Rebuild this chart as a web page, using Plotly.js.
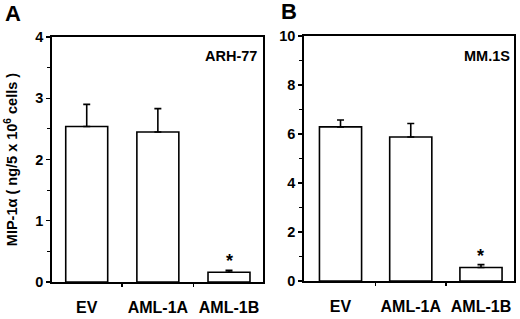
<!DOCTYPE html>
<html>
<head>
<meta charset="utf-8">
<script src="https://cdn.plot.ly/plotly-3.0.1.min.js"></script>
<style>html,body{margin:0;padding:0;background:#fff}#chart{width:520px;height:319px}</style>
</head>
<body>
<div id="chart"></div>
<script>
// Data
const categories = ['EV', 'AML-1A', 'AML-1B'];
const valuesA = [2.54, 2.45, 0.16];
const errorsA = [0.36, 0.38, 0.03];
const valuesB = [6.29, 5.88, 0.55];
const errorsB = [0.28, 0.55, 0.12];
const cellLineA = 'ARH-77';
const cellLineB = 'MM.1S';
const significantIndex = 2;

const idx = categories.map((c, i) => i);
const FONT = 'Arial, "Liberation Sans", sans-serif';

function barTrace(vals, errs, xa, ya, width) {
  return {
    type: 'bar', x: idx, y: vals, xaxis: xa, yaxis: ya, width: width,
    marker: {color: '#ffffff', line: {color: '#000', width: 1.6}},
    error_y: {type: 'data', array: errs, symmetric: false, arrayminus: errs.map(() => 0),
              color: '#000', thickness: 1.6, width: 3.5},
    showlegend: false, hoverinfo: 'skip'
  };
}

const data = [
  barTrace(valuesA, errorsA, 'x', 'y', 0.59),
  barTrace(valuesB, errorsB, 'x2', 'y2', 0.6)
];

const W = 520, H = 319, L = 52, R = 6, T = 36, B = 37;
const pw = W - L - R, ph = H - T - B;
const px = v => (v - L) / pw;
const py = v => (H - B - v) / ph;

function xaxis(domain, range) {
  return {
    domain: domain, range: range, showgrid: false, zeroline: false,
    showline: true, mirror: true, linecolor: '#000', linewidth: 1.8,
    tickmode: 'array', tickvals: idx, ticktext: categories, ticks: '',
    ticklabelstandoff: 10,
    tickfont: {family: FONT, size: 16, color: '#000', weight: 'bold'},
    minor: {tickmode: 'array', tickvals: [0.5, 1.5], ticks: 'outside', ticklen: 3, tickwidth: 1.6, tickcolor: '#000'},
    fixedrange: true
  };
}
function yaxis(domain, range, dtick, anchor) {
  return {
    domain: domain, range: range, anchor: anchor, showgrid: false, zeroline: false,
    showline: true, mirror: true, linecolor: '#000', linewidth: 1.8,
    dtick: dtick, tick0: 0, ticks: 'outside', ticklen: 4, tickwidth: 1.4, tickcolor: '#000',
    minor: {dtick: dtick / 2, ticks: 'outside', ticklen: 3, tickwidth: 1.2, tickcolor: '#000'},
    tickfont: {family: FONT, size: 14.5, color: '#000', weight: 'bold'},
    fixedrange: true
  };
}

const ya = yaxis([py(282), py(37)], [0, 4], 1, 'x');
ya.title = {text: 'MIP-1α ( ng/5 x 10<sup>6</sup> cells )', font: {family: FONT, size: 14.5, color: '#000', weight: 'bold'}, standoff: 14};
const yb = yaxis([py(281), py(36)], [0, 10], 2, 'x2');

const layout = {
  width: W, height: H,
  margin: {l: L, r: R, t: T, b: B},
  paper_bgcolor: '#fff', plot_bgcolor: '#fff',
  bargap: 0,
  xaxis: Object.assign(xaxis([px(52), px(263)], [-0.488, 2.478]), {anchor: 'y'}),
  xaxis2: Object.assign(xaxis([px(304), px(514)], [-0.52, 2.47]), {anchor: 'y2'}),
  yaxis: ya,
  yaxis2: yb,
  annotations: [
    {text: 'A', xref: 'paper', yref: 'paper', x: px(12.5), y: py(13.5), xanchor: 'center', yanchor: 'middle', showarrow: false,
     font: {family: FONT, size: 22, color: '#000', weight: 'bold'}},
    {text: 'B', xref: 'paper', yref: 'paper', x: px(288.7), y: py(11.5), xanchor: 'center', yanchor: 'middle', showarrow: false,
     font: {family: FONT, size: 22, color: '#000', weight: 'bold'}},
    {text: cellLineA, xref: 'paper', yref: 'paper', x: px(258.5), y: py(56), xanchor: 'right', yanchor: 'middle', showarrow: false,
     font: {family: FONT, size: 14.5, color: '#000', weight: 'bold'}},
    {text: cellLineB, xref: 'paper', yref: 'paper', x: px(512), y: py(56), xanchor: 'right', yanchor: 'middle', showarrow: false,
     font: {family: FONT, size: 14.5, color: '#000', weight: 'bold'}},
    {text: '*', xref: 'x', yref: 'y', x: significantIndex, y: valuesA[significantIndex] + errorsA[significantIndex],
     xanchor: 'center', yanchor: 'bottom', yshift: -3, showarrow: false,
     font: {family: FONT, size: 18, color: '#000', weight: 'bold'}},
    {text: '*', xref: 'x2', yref: 'y2', x: significantIndex, y: valuesB[significantIndex] + errorsB[significantIndex],
     xanchor: 'center', yanchor: 'bottom', yshift: -3, showarrow: false,
     font: {family: FONT, size: 18, color: '#000', weight: 'bold'}}
  ]
};

Plotly.newPlot('chart', data, layout, {displayModeBar: false, staticPlot: true});
</script>
</body>
</html>
